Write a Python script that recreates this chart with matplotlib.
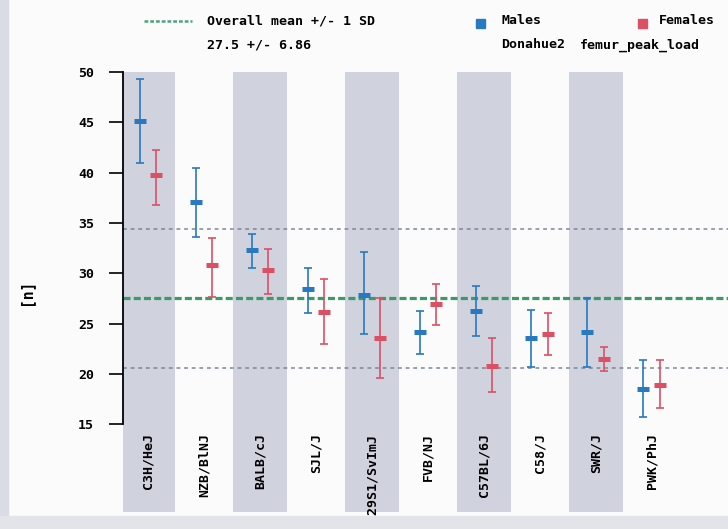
import matplotlib.pyplot as plt
import matplotlib.patches as mpatches
import numpy as np

# strains in plotting order
strains = ['C3H/HeJ', 'NZB/BlNJ', 'BALB/cJ', 'SJL/J', '129S1/SvImJ',
           'FVB/NJ', 'C57BL/6J', 'C58/J', 'SWR/J', 'PWK/PhJ']

# males: mean and lower/upper ends of the error bars
male_mean = [45.1, 37.1, 32.3, 28.4, 27.8, 24.2, 26.3, 23.6, 24.2, 18.5]
male_lo = [41.0, 33.6, 30.5, 26.1, 24.0, 22.0, 23.75, 20.7, 20.7, 15.75]
male_hi = [49.3, 40.5, 33.9, 30.5, 32.1, 26.3, 28.7, 26.4, 27.5, 21.4]

# females
female_mean = [39.8, 30.8, 30.3, 26.2, 23.6, 26.9, 20.8, 23.95, 21.5, 18.9]
female_lo = [36.8, 27.6, 27.9, 23.0, 19.6, 24.85, 18.2, 21.9, 20.3, 16.6]
female_hi = [42.2, 33.5, 32.4, 29.4, 27.55, 28.9, 23.6, 26.1, 22.7, 21.4]

overall_mean = 27.5
overall_sd = 6.86
yticks = [15, 20, 25, 30, 35, 40, 45, 50]

blue = '#2878c2'
red = '#dc5064'
band = '#d0d2de'
green = '#3c9a66'
font = 'DejaVu Sans Mono'

fig = plt.figure(figsize=(7.28, 5.29), dpi=100)
fig.patch.set_facecolor('#fbfbfc')
# scanned-page edges
fig.patches.append(mpatches.Rectangle((0, 0), 0.011, 1, transform=fig.transFigure,
                                      color='#d9dce5', zorder=0))
fig.patches.append(mpatches.Rectangle((0, 0), 1, 0.025, transform=fig.transFigure,
                                      color='#e2e4ea', zorder=0))

ax = fig.add_axes([0.169, 0.032, 0.831, 0.832])
ax.set_facecolor('none')

x = np.arange(len(strains))
off = 0.15

# grey bands behind every other strain
for i in x[::2]:
    ax.axvspan(i - 0.48, i + 0.48, ymin=0, ymax=1, color=band, lw=0, zorder=0)

# overall mean and +/- 1 SD
ax.axhline(overall_mean, color=green, lw=2.3, ls=(0, (2.2, 1.0)), zorder=1)
for v in (overall_mean - overall_sd, overall_mean + overall_sd):
    ax.axhline(v, color='#7c8796', lw=1.1, ls=(0, (2.5, 2.5)), zorder=1)


def draw(xs, mean, lo, hi, col):
    mean = np.array(mean)
    err = [mean - np.array(lo), np.array(hi) - mean]
    ax.errorbar(xs, mean, yerr=err, fmt='none', ecolor=col, elinewidth=1.2,
                capsize=2.6, capthick=1.2, zorder=3)
    ax.plot(xs, mean, ls='none', marker='_', ms=9, mew=3.6, color=col, zorder=4)


draw(x - off, male_mean, male_lo, male_hi, blue)
draw(x + off, female_mean, female_lo, female_hi, red)

for i, s in zip(x, strains):
    ax.text(i, 14.1, s, rotation=90, ha='center', va='top', fontsize=9.5,
            family=font, weight='bold', clip_on=False)

ax.set_xlim(-0.446, 10.36)
ax.set_ylim(6.28, 50)
ax.set_xticks([])
ax.set_yticks(yticks)
ax.set_yticklabels([str(t) for t in yticks], family=font, weight='bold', fontsize=9.5)
ax.tick_params(axis='y', length=10, width=1.2, pad=11)
for side in ['top', 'right', 'bottom']:
    ax.spines[side].set_visible(False)
ax.spines['left'].set_bounds(15, 50)
ax.spines['left'].set_linewidth(1.3)
ax.set_ylabel('[n]', family=font, weight='bold', fontsize=10.5, labelpad=32)

# legend block at the top
fig.add_artist(plt.Line2D([144 / 728, 192 / 728], [1 - 21 / 529] * 2, color='#4aa47c',
                          lw=1.8, ls=(0, (1.5, 0.8))))
fig.text(207 / 728, 1 - 21 / 529, 'Overall mean +/- 1 SD', family=font, weight='bold',
         fontsize=9.5, va='center')
fig.text(207 / 728, 1 - 45 / 529, '%.1f +/- %.2f' % (overall_mean, overall_sd),
         family=font, weight='bold', fontsize=9.5, va='center')
fig.patches.append(mpatches.Rectangle((476 / 728, 1 - 28 / 529), 9 / 728, 9 / 529,
                                      transform=fig.transFigure, color=blue))
fig.text(501 / 728, 1 - 21 / 529, 'Males', family=font, weight='bold', fontsize=9.5,
         va='center')
fig.patches.append(mpatches.Rectangle((638 / 728, 1 - 28 / 529), 9 / 728, 9 / 529,
                                      transform=fig.transFigure, color=red))
fig.text(659 / 728, 1 - 21 / 529, 'Females', family=font, weight='bold', fontsize=9.5,
         va='center')
fig.text(501 / 728, 1 - 45 / 529, 'Donahue2', family=font, weight='bold', fontsize=9.5,
         va='center')
fig.text(580 / 728, 1 - 45 / 529, 'femur_peak_load', family=font, weight='bold',
         fontsize=9.5, va='center')

fig.savefig('out.png', dpi=100, facecolor=fig.get_facecolor())
